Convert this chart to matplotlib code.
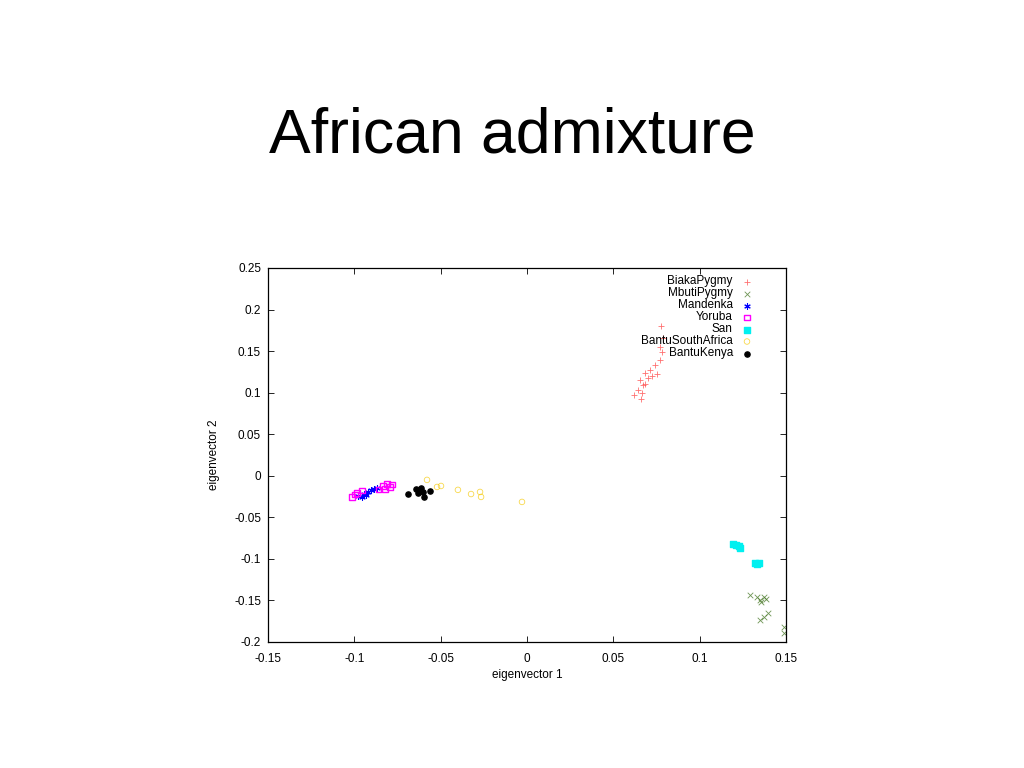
import matplotlib
matplotlib.use('Agg')
import matplotlib.pyplot as plt

plt.rcParams['font.family'] = ['Liberation Sans', 'DejaVu Sans']

# eigenvector 1 / eigenvector 2 per population
biaka_x = [0.0776, 0.0788, 0.0770, 0.0782, 0.0770, 0.0741, 0.0712, 0.0683, 0.0724,
           0.0753, 0.0701, 0.0654, 0.0672, 0.0643, 0.0666, 0.0620, 0.0660, 0.0683]
biaka_y = [0.180, 0.166, 0.155, 0.149, 0.139, 0.133, 0.127, 0.124, 0.120,
           0.122, 0.118, 0.115, 0.109, 0.103, 0.100, 0.097, 0.092, 0.110]

mbuti_x = [0.1291, 0.1332, 0.1349, 0.1373, 0.1384, 0.1355, 0.1349, 0.1373, 0.1396, 0.149, 0.149]
mbuti_y = [-0.1435, -0.146, -0.1495, -0.146, -0.148, -0.152, -0.1735, -0.170, -0.165, -0.182, -0.189]

mandenka_x = [-0.0979, -0.0944, -0.0921, -0.0903, -0.0886, -0.0932, -0.0869, -0.0956]
mandenka_y = [-0.0243, -0.022, -0.0195, -0.017, -0.016, -0.023, -0.0147, -0.0255]

yoruba_x = [-0.1013, -0.0985, -0.0956, -0.0834, -0.0811, -0.0793, -0.0782, -0.0822, -0.086, -0.0996]
yoruba_y = [-0.0255, -0.0207, -0.018, -0.0123, -0.010, -0.0135, -0.011, -0.016, -0.017, -0.023]

san_x = [0.1193, 0.121, 0.1234, 0.1228, 0.132, 0.1343, 0.1332]
san_y = [-0.082, -0.0833, -0.087, -0.0845, -0.105, -0.105, -0.106]

bsa_x = [-0.0579, -0.0521, -0.0498, -0.0400, -0.0324, -0.0272, -0.0266, -0.0029]
bsa_y = [-0.005, -0.0135, -0.0123, -0.017, -0.022, -0.0195, -0.0255, -0.0315]

kenya_x = [-0.0689, -0.0643, -0.0625, -0.0614, -0.0603, -0.0597, -0.0562, -0.0631]
kenya_y = [-0.022, -0.016, -0.017, -0.0147, -0.0195, -0.0255, -0.018, -0.0207]

fig = plt.figure(figsize=(10.24, 7.68), dpi=100)
fig.text(0.5, 0.823, 'African admixture', ha='center', va='center', fontsize=45)

ax = fig.add_axes([0.2617, 0.1641, 0.5059, 0.4870])

ax.scatter(biaka_x, biaka_y, marker='+', s=20, c='#ff4040', linewidths=0.6, alpha=0.75, label='BiakaPygmy')
ax.scatter(mbuti_x, mbuti_y, marker='x', s=16, c='#4a7a2a', linewidths=0.6, alpha=0.8, label='MbutiPygmy')
ax.scatter(mandenka_x, mandenka_y, marker=(6, 2, 0), s=16, c='#0000ff', linewidths=0.8, label='Mandenka')
ax.scatter(yoruba_x, yoruba_y, marker='s', s=14, facecolors='none', edgecolors='#ff00ff',
           linewidths=1.0, label='Yoruba')
ax.scatter(san_x, san_y, marker='s', s=14, c='#00f0f0', label='San')
ax.scatter(bsa_x, bsa_y, marker='o', s=16, facecolors='none', edgecolors='#f5c800',
           linewidths=0.6, alpha=0.7, label='BantuSouthAfrica')
ax.scatter(kenya_x, kenya_y, marker='o', s=14, c='black', label='BantuKenya')

ax.set_xlim(-0.15, 0.15)
ax.set_ylim(-0.2, 0.25)
ax.set_xticks([-0.15, -0.1, -0.05, 0, 0.05, 0.1, 0.15])
ax.set_xticklabels(['-0.15', '-0.1', '-0.05', '0', '0.05', '0.1', '0.15'])
ax.set_yticks([-0.2, -0.15, -0.1, -0.05, 0, 0.05, 0.1, 0.15, 0.2, 0.25])
ax.set_yticklabels(['-0.2', '-0.15', '-0.1', '-0.05', '0', '0.05', '0.1', '0.15', '0.2', '0.25'])
ax.tick_params(direction='in', top=True, right=True, labelsize=8.5, length=4, width=0.6)
ax.tick_params(axis='x', pad=8)
ax.tick_params(axis='y', pad=5)
for sp in ax.spines.values():
    sp.set_linewidth(0.9)
ax.set_xlabel('eigenvector 1', fontsize=8.5, labelpad=3)
ax.set_ylabel('eigenvector 2', fontsize=8.5, labelpad=10)

ax.legend(loc='upper right', frameon=False, markerfirst=False, fontsize=8.5,
          labelspacing=0.0, handletextpad=0.6, borderaxespad=0.2, handlelength=1.2,
          handleheight=0.5, bbox_to_anchor=(0.952, 1.0))

fig.savefig('out.png', dpi=100)
